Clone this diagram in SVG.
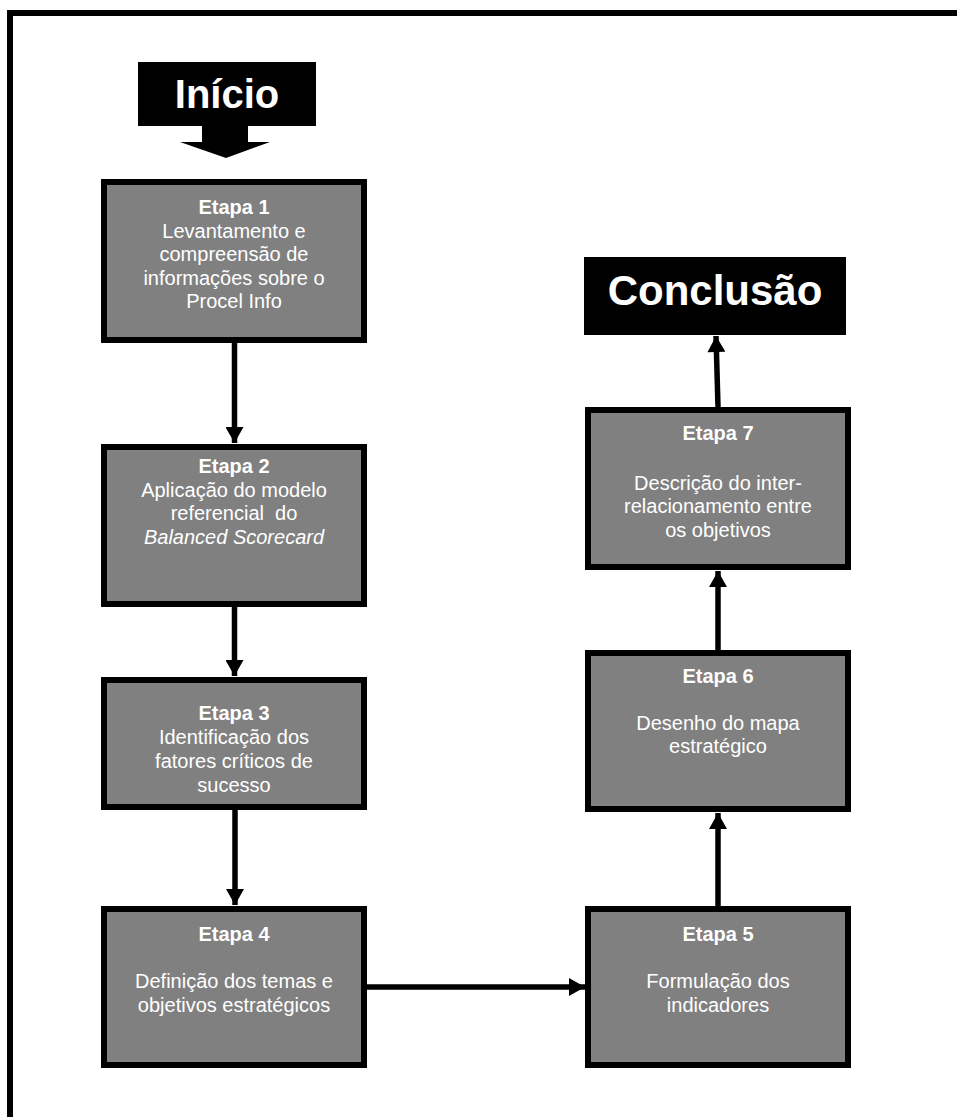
<svg xmlns="http://www.w3.org/2000/svg" width="957" height="1117" viewBox="0 0 957 1117">
  <style>
    .frame { fill: none; stroke: #000; stroke-width: 6; }
    .step { fill: #808080; stroke: #000; stroke-width: 6; }
    .label { fill: #fff; font-family: "Liberation Sans", Arial, sans-serif; font-size: 20px; text-anchor: middle; white-space: pre; }
    .title { font-weight: bold; }
    .big { fill: #fff; font-family: "Liberation Sans", Arial, sans-serif; font-weight: bold; text-anchor: middle; }
    .link { stroke: #000; stroke-width: 5.5; fill: none; marker-end: url(#head); }
  </style>
  <defs>
    <marker id="head" markerUnits="userSpaceOnUse" markerWidth="18" markerHeight="18" viewBox="0 0 16 18" refX="16" refY="9" orient="auto">
      <path d="M0,0 L16,9 L0,18 Z" fill="#000"/>
    </marker>
  </defs>

  <rect width="957" height="1117" fill="#fff"/>

  <!-- outer frame, running off the right and bottom edges -->
  <rect class="frame" x="10" y="13" width="1000" height="1200"/>

  <!-- start block with downward arrow -->
  <g id="inicio">
    <rect x="138" y="62" width="178" height="64" fill="#000"/>
    <polygon points="202,125 248,125 248,142 270,142 226,158 180,142 202,142" fill="#000"/>
    <text class="big" x="227" y="108" font-size="40">Início</text>
  </g>

  <!-- end block -->
  <g id="conclusao">
    <rect x="584" y="257" width="262" height="78" fill="#000"/>
    <text class="big" x="715" y="305" font-size="42">Conclusão</text>
  </g>

  <g id="etapa1">
    <rect class="step" x="104" y="182" width="260" height="158"/>
    <text class="label title" x="234" y="214">Etapa 1</text>
    <text class="label" x="234" y="238">Levantamento e</text>
    <text class="label" x="234" y="261">compreensão de</text>
    <text class="label" x="234" y="285">informações sobre o</text>
    <text class="label" x="234" y="308">Procel Info</text>
  </g>

  <g id="etapa2">
    <rect class="step" x="104" y="447" width="260" height="157"/>
    <text class="label title" x="234" y="473">Etapa 2</text>
    <text class="label" x="234" y="497">Aplicação do modelo</text>
    <text class="label" x="234" y="520">referencial  do</text>
    <text class="label" x="234" y="544" font-style="italic">Balanced Scorecard</text>
  </g>

  <g id="etapa3">
    <rect class="step" x="104" y="680" width="260" height="127"/>
    <text class="label title" x="234" y="720">Etapa 3</text>
    <text class="label" x="234" y="744">Identificação dos</text>
    <text class="label" x="234" y="768">fatores críticos de</text>
    <text class="label" x="234" y="792">sucesso</text>
  </g>

  <g id="etapa4">
    <rect class="step" x="104" y="909" width="260" height="156"/>
    <text class="label title" x="234" y="941">Etapa 4</text>
    <text class="label" x="234" y="988">Definição dos temas e</text>
    <text class="label" x="234" y="1012">objetivos estratégicos</text>
  </g>

  <g id="etapa5">
    <rect class="step" x="588" y="909" width="260" height="156"/>
    <text class="label title" x="718" y="941">Etapa 5</text>
    <text class="label" x="718" y="988">Formulação dos</text>
    <text class="label" x="718" y="1012">indicadores</text>
  </g>

  <g id="etapa6">
    <rect class="step" x="588" y="653" width="260" height="156"/>
    <text class="label title" x="718" y="683">Etapa 6</text>
    <text class="label" x="718" y="730">Desenho do mapa</text>
    <text class="label" x="718" y="753">estratégico</text>
  </g>

  <g id="etapa7">
    <rect class="step" x="588" y="410" width="260" height="157"/>
    <text class="label title" x="718" y="440">Etapa 7</text>
    <text class="label" x="718" y="490">Descrição do inter-</text>
    <text class="label" x="718" y="513">relacionamento entre</text>
    <text class="label" x="718" y="537">os objetivos</text>
  </g>

  <g id="connectors">
    <line class="link" x1="234.5" y1="343" x2="234.5" y2="443"/>
    <line class="link" x1="234.5" y1="607" x2="234.5" y2="676"/>
    <line class="link" x1="235" y1="810" x2="235" y2="905"/>
    <line class="link" x1="367" y1="987" x2="585" y2="987"/>
    <line class="link" x1="718" y1="906" x2="718" y2="813"/>
    <line class="link" x1="718" y1="650" x2="718" y2="571"/>
    <line class="link" x1="718" y1="407" x2="716" y2="336"/>
  </g>
</svg>
